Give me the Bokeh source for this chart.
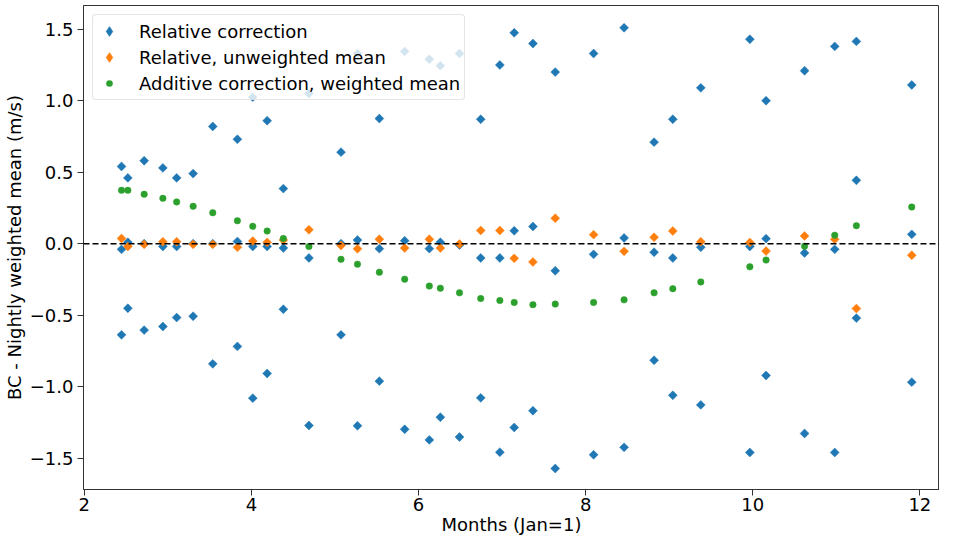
import numpy as np
from bokeh.plotting import figure
from bokeh.models import ColumnDataSource, Span, FixedTicker, Range1d, Legend, LegendItem
from bokeh.embed import file_html
from bokeh.resources import INLINE

months = [2.445, 2.521, 2.716, 2.940, 3.105, 3.302, 3.537, 3.832, 4.016, 4.188,
          4.382, 4.688, 5.072, 5.269, 5.531, 5.834, 6.129, 6.261, 6.490, 6.744,
          6.973, 7.145, 7.369, 7.636, 8.095, 8.460, 8.819, 9.043, 9.378, 9.965,
          10.159, 10.620, 10.981, 11.240, 11.903]

rel_upper = [0.54, 0.46, 0.58, 0.53, 0.46, 0.49, 0.82, 0.73, 1.025, 0.86,
             0.385, 1.05, 0.64, 1.33, 0.875, 1.345, 1.29, 1.245, 1.33, 0.87,
             1.25, 1.475, 1.40, 1.20, 1.33, 1.51, 0.71, 0.87, 1.09, 1.43,
             1.00, 1.21, 1.38, 1.415, 1.11]

rel_middle = [-0.04, 0.01, 0.0, -0.02, -0.02, 0.0, 0.0, 0.015, -0.02, -0.02,
              -0.03, -0.10, 0.0, 0.025, -0.035, 0.02, -0.035, 0.01, -0.01, -0.10,
              -0.10, 0.09, 0.12, -0.19, -0.075, 0.04, -0.06, -0.10, -0.025, -0.02,
              0.035, -0.065, -0.04, 0.443, 0.065]

rel_lower = [-0.638, -0.452, -0.605, -0.58, -0.517, -0.508, -0.841, -0.719, -1.081, -0.908,
             -0.459, -1.272, -0.638, -1.274, -0.962, -1.299, -1.373, -1.214, -1.353, -1.079,
             -1.459, -1.286, -1.169, -1.573, -1.477, -1.425, -0.816, -1.061, -1.128, -1.461,
             -0.922, -1.328, -1.461, -0.521, -0.969]

rel_unweighted = [0.036, -0.02, -0.005, 0.013, 0.013, -0.005, -0.005, -0.025, 0.018, 0.009,
                  0.025, 0.097, -0.013, -0.036, 0.031, -0.031, 0.031, -0.031, -0.003, 0.092,
                  0.092, -0.103, -0.128, 0.178, 0.063, -0.054, 0.045, 0.088, 0.013, 0.008,
                  -0.052, 0.054, 0.03, -0.454, -0.081]

add_weighted = [0.373, 0.373, 0.346, 0.317, 0.292, 0.261, 0.216, 0.16, 0.121, 0.088,
                0.036, -0.02, -0.11, -0.144, -0.2, -0.249, -0.297, -0.312, -0.344, -0.384,
                -0.398, -0.411, -0.427, -0.423, -0.411, -0.393, -0.344, -0.315, -0.268, -0.162,
                -0.115, -0.018, 0.059, 0.126, 0.256]

series_labels = ["Relative correction", "Relative, unweighted mean",
                 "Additive correction, weighted mean"]
x_ticks = [2, 4, 6, 8, 10, 12]
y_ticks = [-1.5, -1.0, -0.5, 0.0, 0.5, 1.0, 1.5]
y_tick_labels = ["\u22121.5", "\u22121.0", "\u22120.5", "0.0", "0.5", "1.0", "1.5"]

FONT = "DejaVu Sans"
FS = "18px"
BLUE, ORANGE, GREEN = "#1f77b4", "#ff7f0e", "#2ca02c"

p = figure(width=939, height=537, output_backend="svg", toolbar_location=None,
           x_range=Range1d(1.99, 12.235), y_range=Range1d(-1.72, 1.666),
           min_border_left=10, min_border_right=0, min_border_top=5, min_border_bottom=10)
p.grid.visible = False
p.outline_line_color = "#333333"
p.outline_line_width = 1
p.background_fill_color = "white"
p.border_fill_color = "white"

blue_src = ColumnDataSource(dict(x=months * 3, y=rel_upper + rel_middle + rel_lower))
p.scatter("x", "y", source=blue_src, marker="square", angle=np.pi / 4, size=6.3,
          fill_color=BLUE, line_color=BLUE, line_width=0.5)
p.scatter(months, rel_unweighted, marker="square", angle=np.pi / 4, size=6.3,
          fill_color=ORANGE, line_color=ORANGE, line_width=0.5)
p.scatter(months, add_weighted, marker="circle", size=6.5,
          fill_color=GREEN, line_color=GREEN, line_width=0.5)

# legend twins: zero-size on the plot, legend glyph size comes from the legend box
lg_blue = p.scatter("x", "y", source=blue_src, marker="diamond", size=0,
                    fill_color=BLUE, line_color=BLUE, line_width=0.8)
lg_orange = p.scatter(months, rel_unweighted, marker="diamond", size=0,
                      fill_color=ORANGE, line_color=ORANGE, line_width=0.8)
lg_green = p.scatter(months, add_weighted, marker="circle", size=0,
                     fill_color=GREEN, line_color="white", line_width=3)

p.add_layout(Span(location=0, dimension="width", line_color="black",
                  line_dash="6 3", line_width=1.5))

legend = Legend(items=[LegendItem(label=series_labels[0], renderers=[lg_blue]),
                       LegendItem(label=series_labels[1], renderers=[lg_orange]),
                       LegendItem(label=series_labels[2], renderers=[lg_green])],
                location="top_left")
legend.label_text_font = FONT
legend.label_text_font_size = FS
legend.label_text_color = "black"
legend.label_standoff = 18
legend.glyph_width = 24
legend.glyph_height = 24
legend.label_height = 24
legend.spacing = 2
legend.padding = 4
legend.margin = 9
legend.border_line_color = "#cccccc"
legend.border_line_width = 1
legend.border_radius = 4
legend.background_fill_alpha = 0.8
p.add_layout(legend)

for ax in (p.xaxis[0], p.yaxis[0]):
    ax.axis_line_color = "#333333"
    ax.major_tick_line_color = "#333333"
    ax.major_tick_in = 0
    ax.major_tick_out = 6
    ax.minor_tick_line_color = None
    ax.major_label_text_font = FONT
    ax.major_label_text_font_size = FS
    ax.major_label_text_color = "black"
    ax.axis_label_text_font = FONT
    ax.axis_label_text_font_size = FS
    ax.axis_label_text_font_style = "normal"
    ax.axis_label_text_color = "black"

p.xaxis.ticker = FixedTicker(ticks=x_ticks)
p.yaxis.ticker = FixedTicker(ticks=y_ticks)
p.yaxis.major_label_overrides = {t: l for t, l in zip(y_ticks, y_tick_labels)}
p.xaxis.axis_label = "Months (Jan=1)"
p.yaxis.axis_label = "BC - Nightly weighted mean (m/s)"
p.xaxis.major_label_standoff = 2
p.xaxis.axis_label_standoff = 0
p.yaxis.major_label_standoff = 4
p.yaxis.axis_label_standoff = 2

open("out.html", "w").write(file_html(p, INLINE))
